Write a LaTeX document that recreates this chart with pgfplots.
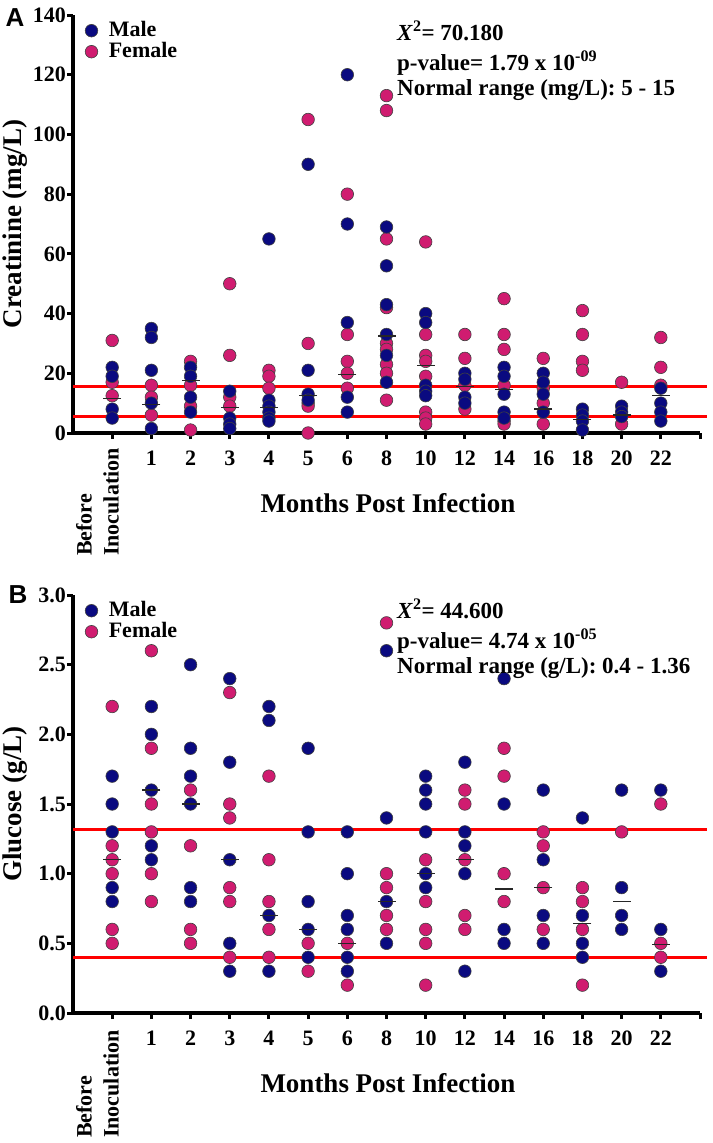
\documentclass[border=0pt]{standalone}
\usepackage{fontspec}
\setmainfont{Liberation Serif}
\newfontfamily\arialfont{Liberation Sans}
\usepackage{pgfplots}
\pgfplotsset{compat=1.18}
\definecolor{male}{RGB}{10,10,128}
\definecolor{female}{RGB}{208,28,112}
\newcommand{\fs}[1]{\fontsize{#1bp}{#1bp}\selectfont\bfseries}
\pgfplotsset{
 panel/.style={
  scale only axis, width=627bp, height=418bp, xmin=-1, xmax=15, clip=false,
  axis x line*=bottom, axis y line*=left,
  axis line style={line width=4bp, black},
  xtick={0,...,15}, xticklabels={,1,2,3,4,5,6,8,10,12,14,16,18,20,22,},
  tick align=outside, major tick length=6bp, tick style={line width=3bp, black},
  ticklabel style={font=\fs{22}},
  xticklabel style={inner sep=0pt, anchor=north, yshift=-12bp},
  yticklabel style={inner sep=0pt, anchor=east, xshift=-1bp},
  label style={font=\fs{27}},
  xlabel={Months Post Infection},
  xlabel style={at={(axis description cs:0.5024,-0.189)}, anchor=base},
  ylabel style={at={(axis description cs:-0.0925,0.5)}, anchor=center},
  legend style={at={(rel axis cs:0,1)}, anchor=north west, draw=none, fill=none,
    xshift=12bp, yshift=-5bp,
    font=\fs{22}, inner sep=0pt, row sep=0pt, column sep=10bp,
    nodes={inner sep=1bp, text height=15bp, text depth=4bp}},
  legend cell align=left, reverse legend,
 },
 fem/.style={only marks, mark=*, mark size=6.3bp, mark options={fill=female, draw=black!75, line width=0.6bp}},
 mal/.style={only marks, mark=*, mark size=6.3bp, mark options={fill=male, draw=black!75, line width=0.6bp}},
 med/.style={only marks, mark=-, mark size=9bp, mark options={line width=1.3bp, black!85}, forget plot},
 rline/.style={red, line width=3bp, forget plot},
}
\begin{document}
\begin{tikzpicture}
\path[use as bounding box] (0,0) rectangle (713bp,-1143bp);
% ---------------- Panel A ----------------
\begin{axis}[panel, at={(73bp,-433bp)}, anchor=south west,
  ymin=0, ymax=140, ytick={0,20,...,140}, yticklabels={0,20,40,60,80,100,120,140},
  ylabel={Creatinine (mg/L)}]
\addplot[rline] coordinates {(-1,15.5) (15.18,15.5)};
\addplot[rline] coordinates {(-1,5.5) (15.18,5.5)};
\addplot[fem] coordinates {
(0,31) (0,17) (0,12.5)
(1,16) (1,12) (1,6)
(2,24) (2,16) (2,9) (2,1)
(3,50) (3,26) (3,12) (3,9)
(4,21) (4,19) (4,15)
(5,105) (5,30) (5,10) (5,9) (5,0)
(6,80) (6,33) (6,24) (6,20) (6,15)
(7,113) (7,108) (7,65) (7,42) (7,30) (7,28) (7,23) (7,20) (7,11)
(8,64) (8,33) (8,26) (8,24) (8,19) (8,7) (8,5) (8,3)
(9,33) (9,25) (9,16) (9,8)
(10,45) (10,33) (10,28) (10,16) (10,4) (10,3)
(11,25) (11,15) (11,10) (11,3)
(12,41) (12,33) (12,24) (12,21)
(13,17) (13,3)
(14,32) (14,22) (14,16)
};
\addlegendentry{Female}
\addplot[mal] coordinates {
(0,22) (0,19) (0,8) (0,5)
(1,35) (1,32) (1,21) (1,10) (1,1.5)
(2,22) (2,19) (2,12) (2,7)
(3,14) (3,5) (3,3) (3,1.5)
(4,65) (4,11) (4,9) (4,7) (4,5) (4,4)
(5,90) (5,21) (5,13) (5,11)
(6,120) (6,70) (6,37) (6,12) (6,7)
(7,69) (7,56) (7,43) (7,33) (7,26) (7,17)
(8,40) (8,37) (8,16) (8,14) (8,12.5)
(9,20) (9,18) (9,12) (9,10)
(10,22) (10,19) (10,13) (10,7) (10,5)
(11,20) (11,17) (11,13) (11,7)
(12,8) (12,6) (12,4) (12,1)
(13,9) (13,7) (13,5.5)
(14,15) (14,10) (14,7) (14,4)
};
\addlegendentry{Male}
\addplot[med] coordinates {
(0,11.5) (1,9.5) (2,17.5) (3,8.5) (4,8.5) (5,12.5) (6,19.5) (7,32.5)
(8,22.5) (9,15.5) (10,14.5) (11,8) (12,4.5) (13,6) (14,12.5)
};
\end{axis}
% ---------------- Panel B ----------------
\begin{axis}[panel, at={(73bp,-1013bp)}, anchor=south west,
  ymin=0, ymax=3, ytick={0,0.5,1,1.5,2,2.5,3}, yticklabels={0.0,0.5,1.0,1.5,2.0,2.5,3.0},
  ylabel={Glucose (g/L)}]
\addplot[rline] coordinates {(-1,1.32) (15.18,1.32)};
\addplot[rline] coordinates {(-1,0.40) (15.18,0.40)};
\addplot[fem] coordinates {
(0,2.2) (0,1.2) (0,1.1) (0,1.0) (0,0.6) (0,0.5)
(1,2.6) (1,1.9) (1,1.5) (1,1.3) (1,1.0) (1,0.8)
(2,1.6) (2,1.2) (2,0.6) (2,0.5)
(3,2.3) (3,1.5) (3,1.4) (3,0.9) (3,0.8) (3,0.4)
(4,1.7) (4,1.1) (4,0.8) (4,0.6) (4,0.4)
(5,0.5) (5,0.3)
(6,0.5) (6,0.2)
(7,2.8) (7,1.0) (7,0.9) (7,0.7) (7,0.6)
(8,1.1) (8,0.8) (8,0.6) (8,0.5) (8,0.2)
(9,1.6) (9,1.5) (9,1.1) (9,0.7) (9,0.6)
(10,1.9) (10,1.7) (10,1.0) (10,0.8)
(11,1.3) (11,1.2) (11,0.9) (11,0.6)
(12,0.9) (12,0.8) (12,0.6) (12,0.2)
(13,1.3)
(14,1.5) (14,0.5) (14,0.4)
};
\addlegendentry{Female}
\addplot[mal] coordinates {
(0,1.7) (0,1.5) (0,1.3) (0,0.9) (0,0.8)
(1,2.2) (1,2.0) (1,1.6) (1,1.2) (1,1.1)
(2,2.5) (2,1.9) (2,1.7) (2,1.5) (2,0.9) (2,0.8)
(3,2.4) (3,1.8) (3,1.1) (3,0.5) (3,0.3)
(4,2.2) (4,2.1) (4,0.7) (4,0.3)
(5,1.9) (5,1.3) (5,0.8) (5,0.6) (5,0.4)
(6,1.3) (6,1.0) (6,0.7) (6,0.6) (6,0.4) (6,0.3)
(7,2.6) (7,1.4) (7,0.8) (7,0.5)
(8,1.7) (8,1.6) (8,1.5) (8,1.3) (8,1.0) (8,0.9)
(9,1.8) (9,1.3) (9,1.2) (9,1.0) (9,0.3)
(10,2.4) (10,1.5) (10,0.6) (10,0.5)
(11,1.6) (11,1.1) (11,0.7) (11,0.5)
(12,1.4) (12,0.7) (12,0.5) (12,0.4)
(13,1.6) (13,0.9) (13,0.7) (13,0.6)
(14,1.6) (14,0.6) (14,0.3)
};
\addlegendentry{Male}
\addplot[med] coordinates {
(0,1.1) (1,1.6) (2,1.5) (3,1.1) (4,0.7) (5,0.6) (6,0.5) (7,0.8)
(8,1.0) (9,1.1) (10,0.89) (11,0.9) (12,0.64) (13,0.8) (14,0.49)
};
\end{axis}
% ---------------- texts ----------------
\node[font=\arialfont\fontsize{26bp}{26bp}\selectfont\bfseries, inner sep=0pt] at (15bp,-17.5bp) {A};
\node[font=\arialfont\fontsize{26bp}{26bp}\selectfont\bfseries, inner sep=0pt] at (18bp,-595bp) {B};
\node[rotate=90, anchor=west, align=left, inner sep=0pt, font=\fontsize{22bp}{27bp}\selectfont\bfseries] at (97.5bp,-556bp) {Before\\Inoculation};
\node[rotate=90, anchor=west, align=left, inner sep=0pt, font=\fontsize{22bp}{27bp}\selectfont\bfseries] at (97.5bp,-1138bp) {Before\\Inoculation};
\node[anchor=base west, inner sep=0pt, font=\fs{23}] at (397bp,-40bp) {\textit{X}\textsuperscript{2}= 70.180};
\node[anchor=base west, inner sep=0pt, font=\fs{23}] at (397bp,-70bp) {p-value= 1.79 x 10\textsuperscript{-09}};
\node[anchor=base west, inner sep=0pt, font=\fs{23}] at (397bp,-95bp) {Normal range (mg/L): 5 - 15};
\node[anchor=base west, inner sep=0pt, font=\fs{23}] at (397bp,-618bp) {\textit{X}\textsuperscript{2}= 44.600};
\node[anchor=base west, inner sep=0pt, font=\fs{23}] at (397bp,-648bp) {p-value= 4.74 x 10\textsuperscript{-05}};
\node[anchor=base west, inner sep=0pt, font=\fs{23}] at (397bp,-673bp) {Normal range (g/L): 0.4 - 1.36};
\end{tikzpicture}
\end{document}
